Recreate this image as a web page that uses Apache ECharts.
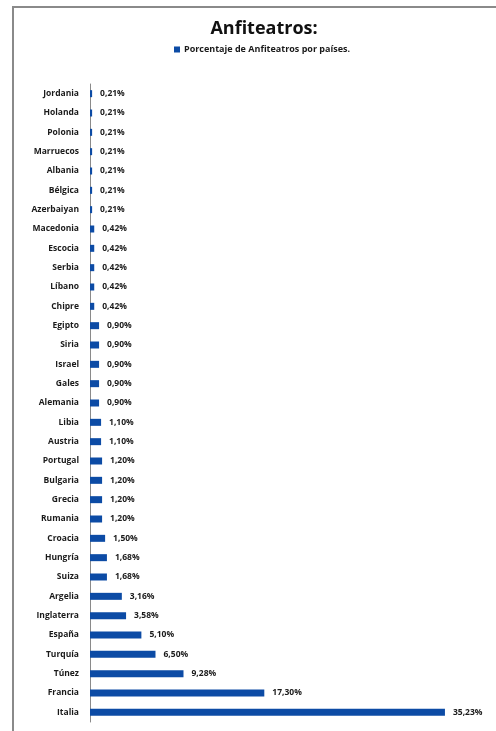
<!DOCTYPE html>
<html>
<head>
<meta charset="utf-8">
<script src="https://cdn.jsdelivr.net/npm/echarts@6/dist/echarts.min.js"></script>
<style>
html,body{margin:0;padding:0;background:#fff;}
#chart{width:496px;height:731px;}
</style>
</head>
<body>
<div id="chart"></div>
<script>
const titleText = 'Anfiteatros:';
const seriesName = 'Porcentaje de Anfiteatros por países.';
const categories = ['Jordania','Holanda','Polonia','Marruecos','Albania','Bélgica','Azerbaiyan','Macedonia','Escocia','Serbia','Líbano','Chipre','Egipto','Siria','Israel','Gales','Alemania','Libia','Austria','Portugal','Bulgaria','Grecia','Rumania','Croacia','Hungría','Suiza','Argelia','Inglaterra','España','Turquía','Túnez','Francia','Italia'];
const values = [0.21,0.21,0.21,0.21,0.21,0.21,0.21,0.42,0.42,0.42,0.42,0.42,0.90,0.90,0.90,0.90,0.90,1.10,1.10,1.20,1.20,1.20,1.20,1.50,1.68,1.68,3.16,3.58,5.10,6.50,9.28,17.30,35.23];

const chart = echarts.init(document.getElementById('chart'));
const font = '"Open Sans", sans-serif';
chart.setOption({
  animation: false,
  backgroundColor: '#fff',
  graphic: [{
    type: 'rect',
    shape: {x: 13, y: 7, width: 520, height: 740},
    style: {fill: 'none', stroke: '#8a8a8a', lineWidth: 2},
    silent: true
  }],
  title: {
    text: titleText,
    left: 259, top: 15, textAlign: 'center',
    textStyle: {fontFamily: font, fontWeight: 'bold', fontSize: 18, color: '#111'}
  },
  legend: {
    data: [seriesName],
    left: 169, top: 40,
    itemWidth: 6, itemHeight: 6, itemGap: 4,
    icon: 'rect',
    textStyle: {fontFamily: font, fontSize: 9, fontWeight: 'bold', color: '#1a1a1a', padding: [0,0,0,-1]}
  },
  grid: {left: 90, top: 84, width: 403, height: 638, containLabel: false},
  xAxis: {type: 'value', min: 0, max: 40, show: false},
  yAxis: {
    type: 'category', data: categories, inverse: true,
    axisLine: {show: true, lineStyle: {color: '#8a8a8a', width: 1}},
    axisTick: {show: false},
    axisLabel: {fontFamily: font, fontSize: 8.5, fontWeight: 'bold', color: '#1a1a1a', margin: 11}
  },
  series: [{
    name: seriesName, type: 'bar', data: values, barWidth: 7,
    itemStyle: {color: '#0c4ba5'},
    label: {
      show: true, position: 'right', distance: 8,
      fontFamily: font, fontSize: 8.5, fontWeight: 'bold', color: '#1a1a1a',
      formatter: p => p.value.toFixed(2).replace('.', ',') + '%'
    }
  }]
});
</script>
</body>
</html>
